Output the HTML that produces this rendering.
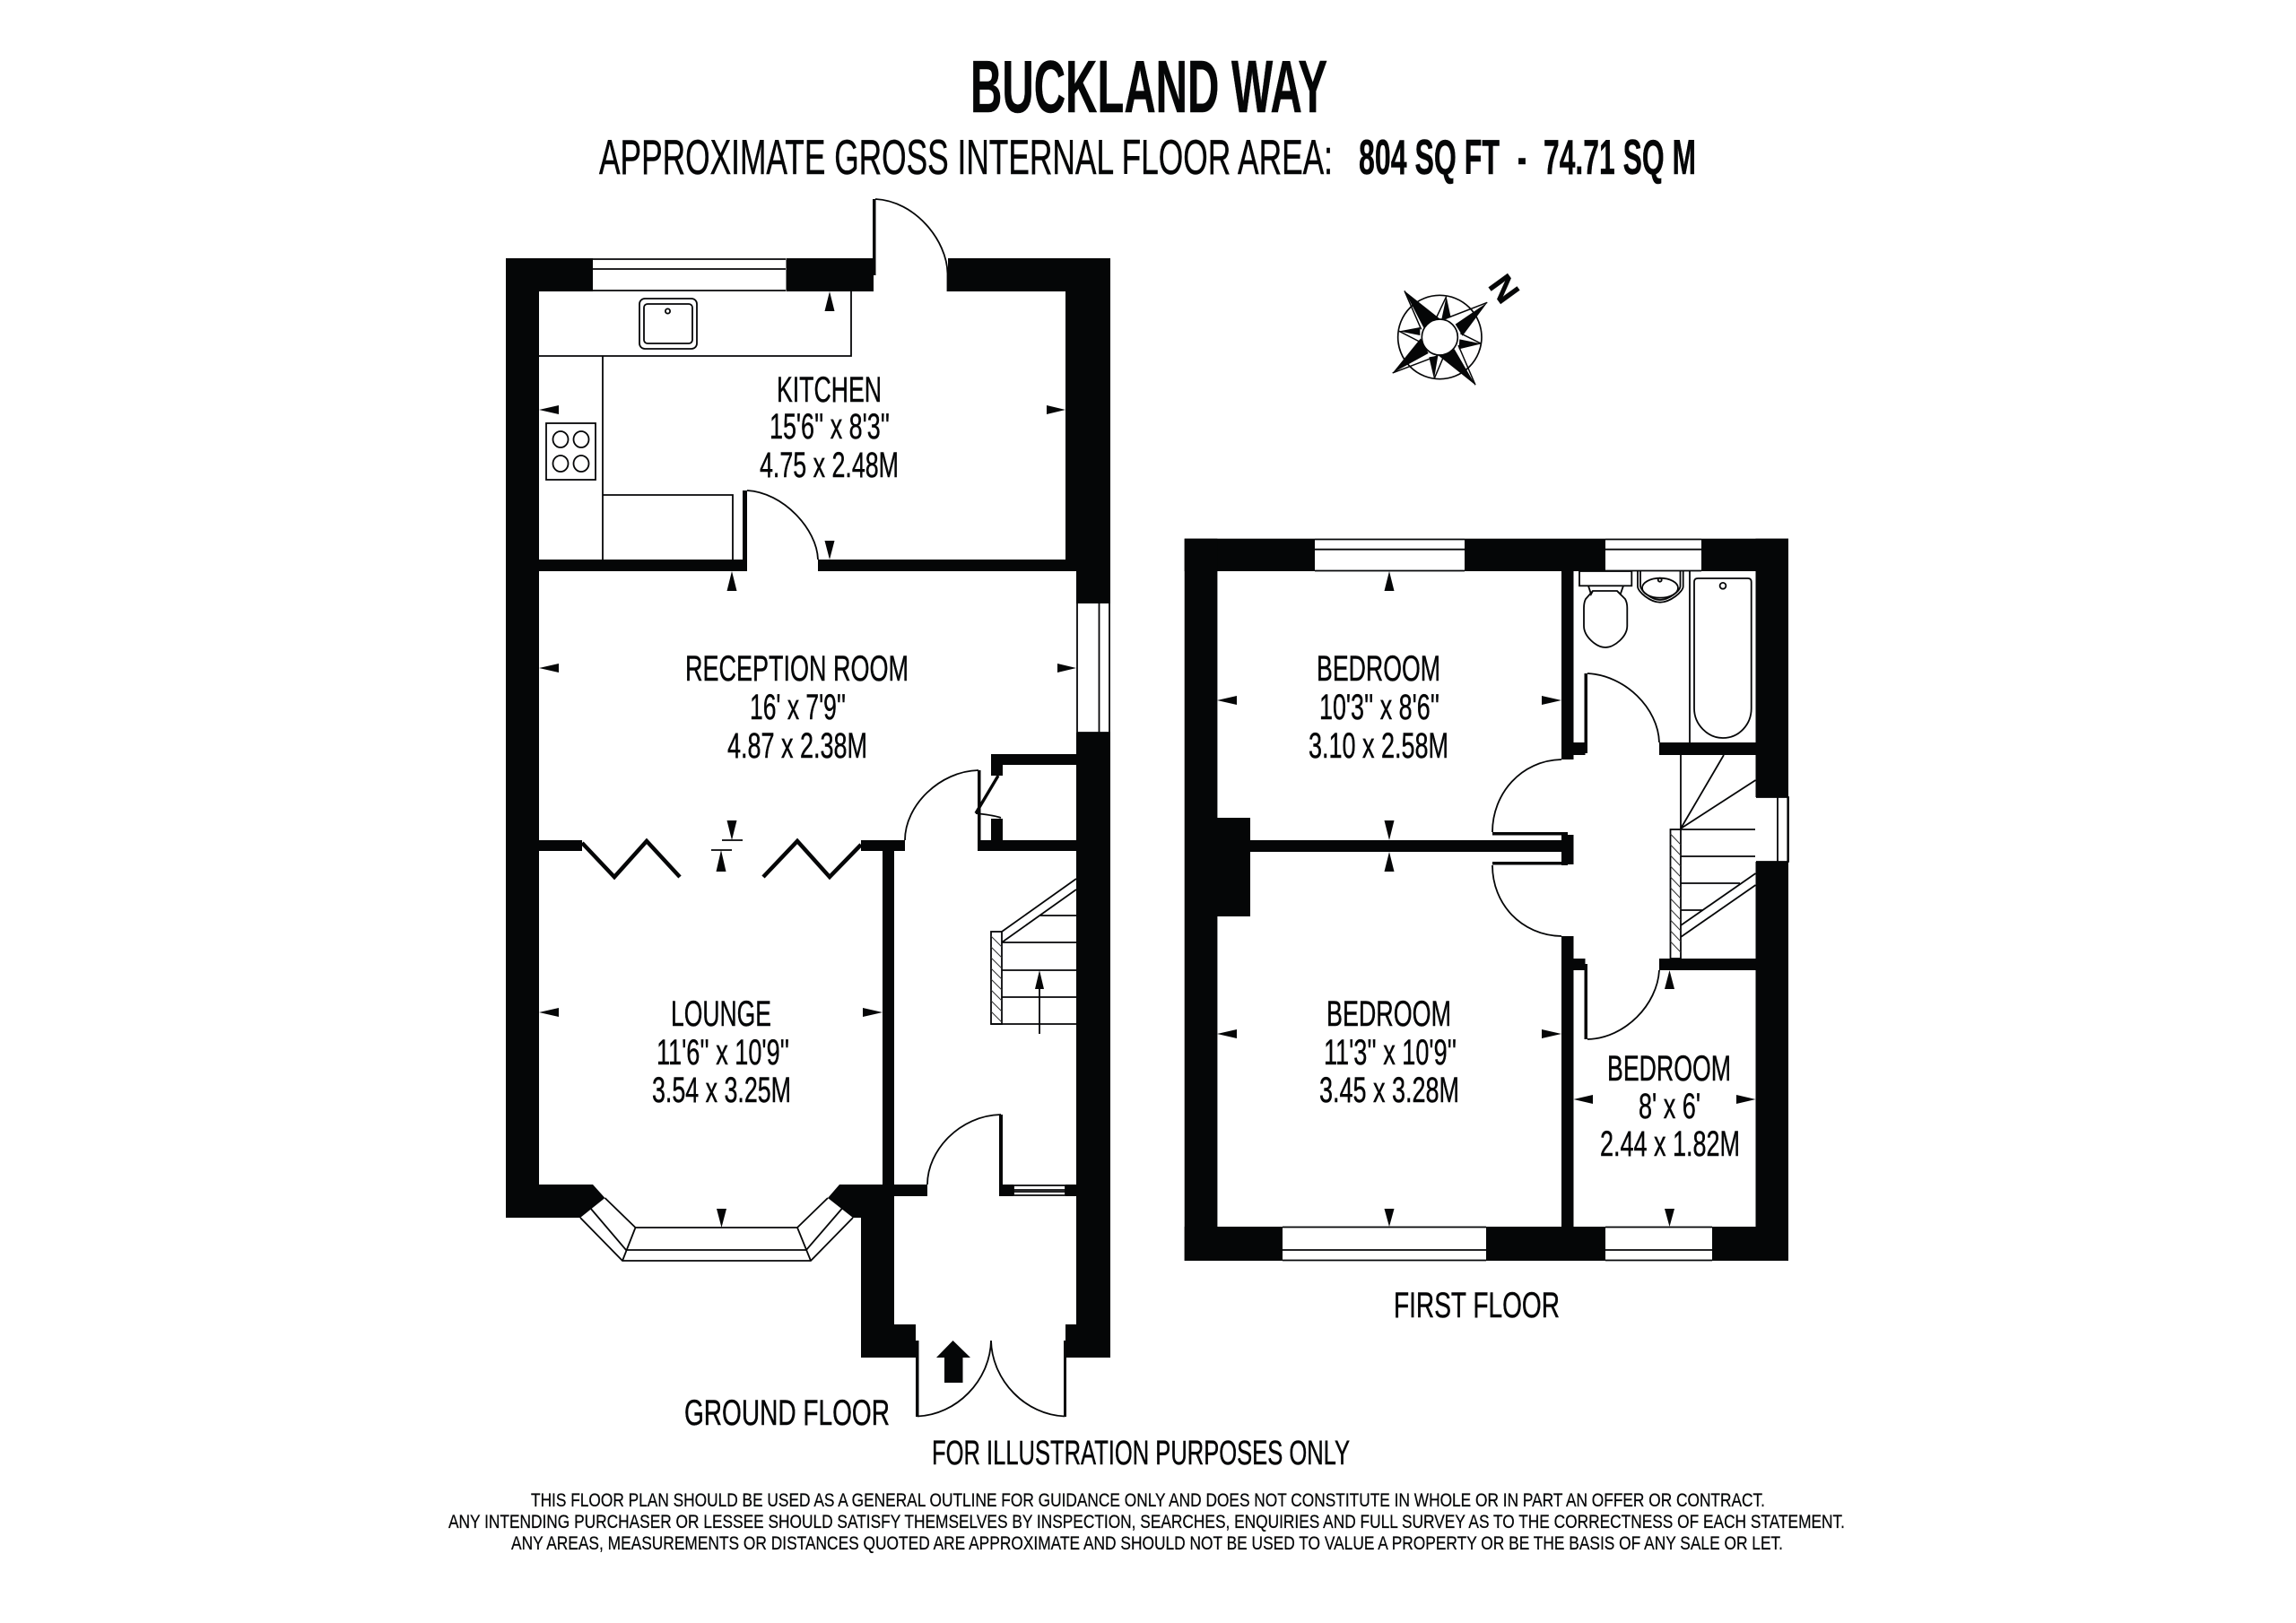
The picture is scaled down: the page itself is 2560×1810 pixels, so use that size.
<!DOCTYPE html>
<html><head><meta charset="utf-8"><title>Buckland Way floor plan</title>
<style>
html,body{margin:0;padding:0;background:#fff}
svg{display:block}
text{font-family:"Liberation Sans",Arial,sans-serif;fill:#050607;stroke:#050607;stroke-width:.45}
.r{font-size:40px}
.d{font-size:21px;stroke-width:.25}
.w{fill:#050607;stroke:none}
.l{fill:none;stroke:#050607;stroke-width:1.8}
.a{fill:none;stroke:#050607;stroke-width:1.8}
.t{fill:#050607;stroke:none}
.h{stroke:#333;stroke-width:1;fill:none}
</style></head><body>
<svg width="2560" height="1810" viewBox="0 0 2560 1810" xmlns="http://www.w3.org/2000/svg">
<rect width="2560" height="1810" fill="#fff"/>

<!-- Titles -->
<text x="1082" y="125" font-size="83" font-weight="700" textLength="398" lengthAdjust="spacingAndGlyphs">BUCKLAND WAY</text>
<text x="668" y="194" font-size="55" textLength="818" lengthAdjust="spacingAndGlyphs">APPROXIMATE GROSS INTERNAL FLOOR AREA:</text>
<text x="1515" y="194" font-size="55" font-weight="700" textLength="157" lengthAdjust="spacingAndGlyphs">804 SQ FT</text>
<text x="1692" y="194" font-size="55" font-weight="700" textLength="10" lengthAdjust="spacingAndGlyphs">-</text>
<text x="1721" y="194" font-size="55" font-weight="700" textLength="170" lengthAdjust="spacingAndGlyphs">74.71 SQ M</text>

<!-- GROUND FLOOR WALLS -->
<g class="w">
<rect x="564" y="288" width="97" height="37"/>
<rect x="876.5" y="288" width="97.5" height="37"/>
<rect x="973" y="222" width="3.5" height="85"/>
<rect x="1057" y="288" width="181" height="37"/>
<rect x="564" y="288" width="37" height="1070"/>
<polygon points="564,1321 661,1321 674.5,1336 647,1358 564,1358"/>
<rect x="1188" y="288" width="50" height="349"/>
<rect x="1200" y="637" width="38" height="36"/>
<rect x="1200" y="817" width="38" height="697"/>
<polygon points="1200,1477 1188,1477 1188,1495 1186,1495 1186,1514 1238,1514 1238,1477"/>
<polygon points="923,1336 936,1321 997,1321 997,1477 1021,1477 1021,1495 1024,1495 1024,1514 960,1514 960,1358 951,1358"/>
<rect x="601" y="624" width="228" height="13"/>
<rect x="828" y="547" width="5" height="90"/>
<rect x="912" y="624" width="288" height="13"/>
<rect x="601" y="937" width="48" height="12"/>
<rect x="960" y="937" width="49" height="12"/>
<rect x="984" y="949" width="13" height="372"/>
<rect x="1105" y="841" width="95" height="12"/>
<rect x="1105" y="841" width="13" height="24"/>
<rect x="1105" y="913" width="13" height="30"/>
<rect x="1091" y="937" width="109" height="12"/>
<rect x="1090" y="859" width="3.5" height="90"/>
<rect x="997" y="1321" width="37" height="13"/>
<rect x="1114" y="1243" width="4" height="91"/>
<rect x="1114" y="1321" width="16" height="13"/>
<rect x="1188" y="1321" width="12" height="13"/>
<rect x="1021" y="1495" width="3.5" height="85"/>
<rect x="1186" y="1495" width="3" height="85"/>
</g>

<!-- Ground: windows -->
<g class="l">
<path d="M661 289H876M661 300H876M661 324H876"/>
<path d="M1201 673V817M1225.5 673V817M1237 673V817M1201 817H1238"/>
<path d="M1130 1322H1188M1130 1327H1188M1130 1329H1188M1130 1333H1188M1130 1322V1333M1188 1322V1333"/>
</g>
<path class="l" d="M647 1358L694 1406H904L951 1358M674.5 1336L708.5 1369H889L923 1336M658 1347L698 1394H899L939.5 1347M708.5 1369L694 1406M889 1369L904 1406"/>

<!-- Kitchen fittings -->
<g class="l">
<path d="M601 397H949V325"/>
<path d="M672 397V624"/>
<path d="M672 552H817V624"/>
<rect x="713" y="333" width="64" height="56" rx="6"/>
<rect x="718" y="339" width="54" height="44" rx="4"/>
<circle cx="744.5" cy="347" r="2.6"/>
<rect x="609" y="472" width="55" height="63"/>
<ellipse cx="625" cy="490" rx="8.5" ry="9"/>
<ellipse cx="648" cy="490" rx="8.5" ry="9"/>
<ellipse cx="625" cy="517" rx="8.5" ry="9"/>
<ellipse cx="648" cy="517" rx="8.5" ry="9"/>
</g>

<!-- Ground doors -->
<g class="a">
<path d="M976 222C1020 224 1056 268 1056.5 305V325"/>
<path d="M833 547C873 549 911 590 912 624"/>
<path d="M1091 859C1048 860 1009 898 1009 937"/>
<path d="M1116 1243C1070 1244 1034 1283 1034 1321"/>
<path d="M1023 1579.5C1066 1578 1104 1540 1105 1495C1106 1540 1144 1578 1187 1579.5"/>
<path d="M1088 907C1096 908 1108 909 1116 912"/>
</g>
<path d="M1113 865L1088 907" fill="none" stroke="#050607" stroke-width="3.4"/>
<polyline points="649,940 685,978 721,938 758,978" fill="none" stroke="#050607" stroke-width="4.5"/>
<polyline points="851,978 889,938 925,978 960,942" fill="none" stroke="#050607" stroke-width="4.5"/>

<!-- Ground stairs -->
<g class="l">
<rect x="1105" y="1039" width="12" height="103"/>
<path d="M1160 1021H1200M1117 1051H1200M1117 1082H1200M1117 1112H1200M1105 1142H1200"/>
<path d="M1117 1039L1200 980M1117 1051L1200 992"/>
<path d="M1159 1153V1100"/>
</g>
<g class="h">
<path d="M1105 1044L1117 1056M1105 1056L1117 1068M1105 1068L1117 1080M1105 1080L1117 1092M1105 1092L1117 1104M1105 1104L1117 1116M1105 1116L1117 1128M1105 1128L1117 1140"/>
</g>
<polygon class="t" points="1159,1082 1154,1103 1164,1103"/>

<!-- Entry arrow -->
<polygon class="t" points="1062.5,1495 1044,1514 1053,1514 1053,1542 1073.5,1542 1073.5,1514 1082,1514"/>

<!-- Ground dimension arrows -->
<g class="t">
<polygon points="925,325 919.5,347 930.5,347"/>
<polygon points="601,457 623,452 623,462"/>
<polygon points="1188,457 1167,452 1167,462"/>
<polygon points="925,624 919.5,603 930.5,603"/>
<polygon points="816,637 810.5,659 821.5,659"/>
<polygon points="601,745 623,740 623,750"/>
<polygon points="1200,745 1179,740 1179,750"/>
<polygon points="816,937 810.5,915 821.5,915"/>
<polygon points="804,948 798.5,972 809.5,972"/>
<polygon points="601,1129 623,1124 623,1134"/>
<polygon points="984,1129 962,1124 962,1134"/>
<polygon points="804.5,1369 799,1348 810,1348"/>
</g>
<path class="l" d="M805 937H828M793 948H816"/>

<!-- Ground labels -->
<text class="r" x="866" y="448" textLength="117" lengthAdjust="spacingAndGlyphs">KITCHEN</text>
<text class="r" x="858" y="489" textLength="134" lengthAdjust="spacingAndGlyphs">15'6'' x 8'3''</text>
<text class="r" x="847" y="532" textLength="155" lengthAdjust="spacingAndGlyphs">4.75 x 2.48M</text>
<text class="r" x="764" y="759" textLength="249" lengthAdjust="spacingAndGlyphs">RECEPTION ROOM</text>
<text class="r" x="836" y="802" textLength="107" lengthAdjust="spacingAndGlyphs">16' x 7'9''</text>
<text class="r" x="811" y="845" textLength="156" lengthAdjust="spacingAndGlyphs">4.87 x 2.38M</text>
<text class="r" x="748" y="1144" textLength="112" lengthAdjust="spacingAndGlyphs">LOUNGE</text>
<text class="r" x="732" y="1187" textLength="148" lengthAdjust="spacingAndGlyphs">11'6'' x 10'9''</text>
<text class="r" x="727" y="1229" textLength="155" lengthAdjust="spacingAndGlyphs">3.54 x 3.25M</text>
<text class="r" x="763" y="1589" textLength="229" lengthAdjust="spacingAndGlyphs">GROUND FLOOR</text>

<!-- FIRST FLOOR WALLS -->
<g class="w">
<rect x="1320.7" y="600.7" width="145.3" height="36.3"/>
<rect x="1633" y="600.7" width="157" height="36.3"/>
<rect x="1897" y="600.7" width="97" height="36.3"/>
<rect x="1320.7" y="600.7" width="36.7" height="805.3"/>
<rect x="1957.5" y="600.7" width="36.5" height="288.3"/>
<rect x="1957.5" y="961" width="36.5" height="445"/>
<rect x="1320.7" y="1368" width="109.3" height="38"/>
<rect x="1657" y="1368" width="133" height="38"/>
<rect x="1909" y="1368" width="85" height="38"/>
<rect x="1741" y="637" width="13.5" height="210"/>
<rect x="1754" y="828" width="13.5" height="14"/>
<rect x="1766.5" y="751" width="3.5" height="89"/>
<rect x="1850" y="828" width="108" height="14"/>
<rect x="1357" y="912" width="37" height="110"/>
<rect x="1394" y="937" width="347" height="13"/>
<rect x="1664" y="928" width="84" height="3.5"/>
<rect x="1664" y="961" width="84" height="3.5"/>
<rect x="1741" y="928" width="7" height="37"/>
<rect x="1748" y="931" width="6.5" height="33"/>
<rect x="1741" y="1044" width="13.5" height="324"/>
<rect x="1754" y="1069" width="13.5" height="13"/>
<rect x="1766.5" y="1075" width="3.5" height="84"/>
<rect x="1850" y="1069" width="108" height="13"/>
</g>

<!-- First floor windows -->
<g class="l">
<path d="M1466 601.5H1633M1466 612.7H1633M1466 636.5H1633"/>
<path d="M1790 601.5H1897M1790 612.7H1897M1790 636.5H1897"/>
<path d="M1430 1368.5H1657M1430 1394H1657M1430 1405.5H1657"/>
<path d="M1790 1368.5H1909M1790 1394H1909M1790 1405.5H1909"/>
<path d="M1958 889H1994V961H1958M1982 889V961M1993.3 889V961"/>
</g>

<!-- Bathroom fittings -->
<g class="l">
<path d="M1884 637V828"/>
<path d="M1893 645H1949Q1952.7 645 1952.7 649V790C1952.7 808 1939 823 1921 823C1904 823 1889 808 1889 790V649Q1889 645 1893 645Z"/>
<circle cx="1921" cy="653.3" r="3.4"/>
<rect x="1761" y="637" width="58.3" height="16.3"/>
<path d="M1771 653.3L1774 662.7L1776 659H1803L1806.7 662.7L1810 653.3"/>
<path d="M1776 659L1768 668Q1766 672 1766 678V698C1766 710 1780 722 1790 722C1800 722 1814.3 710 1814.3 698V678Q1814.3 672 1812 668L1803 659"/>
<path d="M1826 637V654C1826 660 1840 671.7 1851 671.7C1862 671.7 1876.7 660 1876.7 654V637"/>
<path d="M1829 637V654C1830 659 1841 669 1851 669C1861 669 1873 659 1873.5 654V637"/>
<ellipse cx="1851" cy="655.7" rx="20" ry="11"/>
<circle cx="1850.7" cy="646.7" r="2"/>
</g>

<!-- First floor doors -->
<g class="a">
<path d="M1770 751C1812 753 1849 790 1850 828"/>
<path d="M1741 847C1696 848 1664 885 1664 928"/>
<path d="M1664 965C1664 1008 1696 1043 1741 1044"/>
<path d="M1850 1082C1848 1120 1812 1158 1770 1159"/>
</g>

<!-- First floor stairs -->
<g class="l">
<path d="M1874 842V925"/>
<rect x="1862.5" y="925" width="11.5" height="144"/>
<path d="M1874 925H1957M1874 955H1957M1874 985H1940M1874 1015H1899"/>
<path d="M1874 924L1922 842M1874 924L1957.5 870"/>
<path d="M1874 1032L1957.5 974M1874 1045L1957.5 987"/>
</g>
<path class="h" d="M1862.5 930L1874 942M1862.5 942L1874 954M1862.5 954L1874 966M1862.5 966L1874 978M1862.5 978L1874 990M1862.5 990L1874 1002M1862.5 1002L1874 1014M1862.5 1014L1874 1026M1862.5 1026L1874 1038M1862.5 1038L1874 1050M1862.5 1050L1874 1062"/>

<!-- First floor arrows -->
<g class="t">
<polygon points="1549,637 1543.5,659 1554.5,659"/>
<polygon points="1357,781 1379,776 1379,786"/>
<polygon points="1741,781 1719,776 1719,786"/>
<polygon points="1549,937 1543.5,915 1554.5,915"/>
<polygon points="1549,950 1543.5,972 1554.5,972"/>
<polygon points="1357,1153 1379,1148 1379,1158"/>
<polygon points="1741,1153 1719,1148 1719,1158"/>
<polygon points="1549,1368 1543.5,1348 1554.5,1348"/>
<polygon points="1861.5,1082 1856,1103 1867,1103"/>
<polygon points="1754.5,1226 1776,1221 1776,1231"/>
<polygon points="1957.5,1226 1936,1221 1936,1231"/>
<polygon points="1861.5,1368 1856,1348 1867,1348"/>
</g>

<!-- First floor labels -->
<text class="r" x="1468" y="759" textLength="138" lengthAdjust="spacingAndGlyphs">BEDROOM</text>
<text class="r" x="1471" y="802" textLength="134" lengthAdjust="spacingAndGlyphs">10'3'' x 8'6''</text>
<text class="r" x="1459" y="845" textLength="156" lengthAdjust="spacingAndGlyphs">3.10 x 2.58M</text>
<text class="r" x="1479" y="1144" textLength="139" lengthAdjust="spacingAndGlyphs">BEDROOM</text>
<text class="r" x="1476" y="1187" textLength="148" lengthAdjust="spacingAndGlyphs">11'3'' x 10'9''</text>
<text class="r" x="1471" y="1229" textLength="156" lengthAdjust="spacingAndGlyphs">3.45 x 3.28M</text>
<text class="r" x="1792" y="1205" textLength="138" lengthAdjust="spacingAndGlyphs">BEDROOM</text>
<text class="r" x="1827" y="1247" textLength="69" lengthAdjust="spacingAndGlyphs">8' x 6'</text>
<text class="r" x="1784" y="1289" textLength="156" lengthAdjust="spacingAndGlyphs">2.44 x 1.82M</text>
<text class="r" x="1554" y="1469" textLength="185" lengthAdjust="spacingAndGlyphs">FIRST FLOOR</text>

<!-- Compass -->
<g transform="translate(1520 280) scale(0.3333)">
<circle cx="256" cy="288" r="140" fill="none" stroke="#050607" stroke-width="5"/>
<g class="t">
<polygon points="138,133 258,228 205,262"/>
<polygon points="415,172 308,245 332,284"/>
<polygon points="375,448 252,350 305,328"/>
<polygon points="98,408 192,292 218,342"/>
<polygon points="278,152 293,222 262,228"/>
<polygon points="395,310 320,328 322,295"/>
<polygon points="237,428 220,355 250,350"/>
<polygon points="120,268 190,255 190,282"/>
</g>
<g fill="none" stroke="#050607" stroke-width="4.5">
<path d="M138 133L194 262M415 172L270 228M375 448L318 315M98 408L250 350"/>
<path d="M278 152L245 222M395 310L325 275M237 428L268 355M120 268L188 303"/>
</g>
<circle cx="256" cy="288" r="60" fill="#fff" stroke="#050607" stroke-width="5"/>
</g>
<text transform="rotate(54 1677 322)" x="1663" y="335" font-size="38" font-weight="700" textLength="28" lengthAdjust="spacingAndGlyphs">N</text>

<!-- Footer -->
<text x="1039" y="1633" font-size="38" textLength="466" lengthAdjust="spacingAndGlyphs">FOR ILLUSTRATION PURPOSES ONLY</text>
<text class="d" x="592" y="1680" textLength="1376" lengthAdjust="spacingAndGlyphs">THIS FLOOR PLAN SHOULD BE USED AS A GENERAL OUTLINE FOR GUIDANCE ONLY AND DOES NOT CONSTITUTE IN WHOLE OR IN PART AN OFFER OR CONTRACT.</text>
<text class="d" x="500" y="1704" textLength="1557" lengthAdjust="spacingAndGlyphs">ANY INTENDING PURCHASER OR LESSEE SHOULD SATISFY THEMSELVES BY INSPECTION, SEARCHES, ENQUIRIES AND FULL SURVEY AS TO THE CORRECTNESS OF EACH STATEMENT.</text>
<text class="d" x="570" y="1728" textLength="1418" lengthAdjust="spacingAndGlyphs">ANY AREAS, MEASUREMENTS OR DISTANCES QUOTED ARE APPROXIMATE AND SHOULD NOT BE USED TO VALUE A PROPERTY OR BE THE BASIS OF ANY SALE OR LET.</text>
</svg>
</body></html>
